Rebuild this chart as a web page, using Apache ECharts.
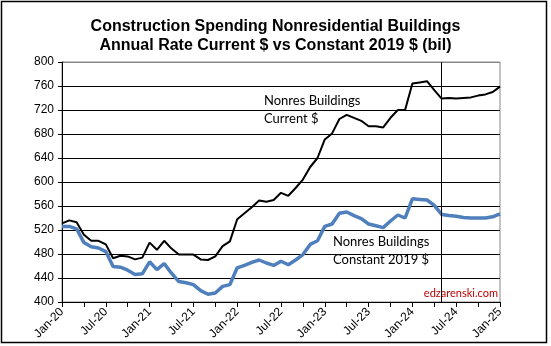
<!DOCTYPE html>
<html>
<head>
<meta charset="utf-8">
<script src="https://cdn.jsdelivr.net/npm/echarts@6/dist/echarts.min.js"></script>
<style>
  html, body { margin: 0; padding: 0; background: #fff; }
  #chart { width: 551px; height: 346px; }
</style>
</head>
<body>
<div id="chart"></div>
<script>
// Month labels Jan-20 .. Jan-25
const monthNames = ['Jan', 'Feb', 'Mar', 'Apr', 'May', 'Jun', 'Jul', 'Aug', 'Sep', 'Oct', 'Nov', 'Dec'];
const years = ['20', '21', '22', '23', '24', '25'];
const categories = [];
years.forEach(function (y) {
  monthNames.forEach(function (m) {
    if (categories.length < 61) categories.push(m + '-' + y);
  });
});

// Current $ (bil, annual rate)
const currentDollars = [
  531, 536, 533, 512, 502, 502, 496, 473, 477, 476, 471, 474,
  499, 487, 502, 489, 479, 479, 479, 471, 470, 476, 493, 501,
  538, 548, 558, 569, 567, 570, 582, 577, 590, 604, 625, 640,
  671, 681, 705, 712, 707, 702, 693, 693, 691, 707, 720, 720,
  764, 766, 768, 753, 739, 740, 739, 740, 741, 744, 746, 750,
  759
];

// Constant 2019 $ (bil, annual rate)
const constantDollars = [
  526, 526, 522, 499, 492, 490, 484, 459, 458, 453, 446, 447,
  467, 454, 464, 448, 434, 432, 429, 419, 413, 415, 426, 429,
  457, 461, 466, 470, 465, 461, 468, 462, 470, 479, 496, 502,
  526, 530, 548, 550, 544, 539, 530, 527, 524, 535, 545, 540,
  572, 571, 570, 561, 546, 544, 543, 541, 540, 540, 540, 542,
  547
];

const markerMonth = 'May-24';

const chart = echarts.init(document.getElementById('chart'));

const option = {
  animation: false,
  backgroundColor: '#fff',
  textStyle: { fontFamily: 'Liberation Sans, Arial, sans-serif' },
  title: {
    text: 'Construction Spending Nonresidential Buildings\nAnnual Rate Current $ vs Constant 2019 $ (bil)',
    left: 'center',
    top: 12,
    textStyle: { fontSize: 16, fontWeight: 'bold', color: '#000', lineHeight: 19, fontFamily: 'Liberation Sans, Arial, sans-serif' }
  },
  grid: {
    left: 62, right: 51, top: 62, bottom: 44,
    show: true, borderColor: '#888', borderWidth: 1
  },
  xAxis: {
    type: 'category',
    boundaryGap: false,
    data: categories,
    axisLine: { lineStyle: { color: '#000', width: 1 } },
    axisTick: { interval: 2, length: 5, lineStyle: { color: '#000' } },
    axisLabel: { interval: 5, rotate: 45, color: '#000', fontSize: 12, margin: 8 }
  },
  yAxis: {
    type: 'value',
    min: 400, max: 800, interval: 40,
    axisLine: { show: true, lineStyle: { color: '#000' } },
    axisTick: { show: true, length: 4, lineStyle: { color: '#000' } },
    axisLabel: { color: '#000', fontSize: 12, margin: 8 },
    splitLine: {
      lineStyle: {
        color: ['#000', '#000', '#000', '#000', '#000', '#000', '#000', '#000', '#000', '#000', '#888'],
        width: 1
      }
    }
  },
  series: [
    {
      name: 'Nonres Buildings Current $',
      type: 'line',
      data: currentDollars,
      showSymbol: false,
      lineStyle: { color: '#000', width: 2 },
      itemStyle: { color: '#000' },
      markLine: {
        silent: true,
        symbol: 'none',
        label: { show: false },
        lineStyle: { color: '#000', width: 1, type: 'solid' },
        data: [{ xAxis: markerMonth }]
      },
      z: 3
    },
    {
      name: 'Nonres Buildings Constant 2019 $',
      type: 'line',
      data: constantDollars,
      showSymbol: false,
      lineStyle: { color: '#4F7FBC', width: 3.5 },
      itemStyle: { color: '#4F7FBC' },
      z: 2
    }
  ],
  graphic: [
    {
      type: 'rect',
      shape: { x: 1.5, y: 1.5, width: 545, height: 341 },
      style: { fill: 'none', stroke: '#000', lineWidth: 1.5 },
      silent: true
    },
    {
      type: 'text',
      left: 264, top: 92,
      style: { text: 'Nonres Buildings\nCurrent $', font: '13px Lato, "Open Sans", sans-serif', fill: '#000', lineHeight: 18 }
    },
    {
      type: 'text',
      left: 333, top: 233,
      style: { text: 'Nonres Buildings\nConstant 2019 $', font: '13px Lato, "Open Sans", sans-serif', fill: '#000', lineHeight: 18 }
    },
    {
      type: 'text',
      right: 53, top: 288,
      style: { text: 'edzarenski.com', font: '11px Lato, "Open Sans", sans-serif', fill: '#C00000' }
    }
  ]
};

chart.setOption(option);

window.addEventListener('resize', function () {
  chart.resize();
});
</script>
</body>
</html>
